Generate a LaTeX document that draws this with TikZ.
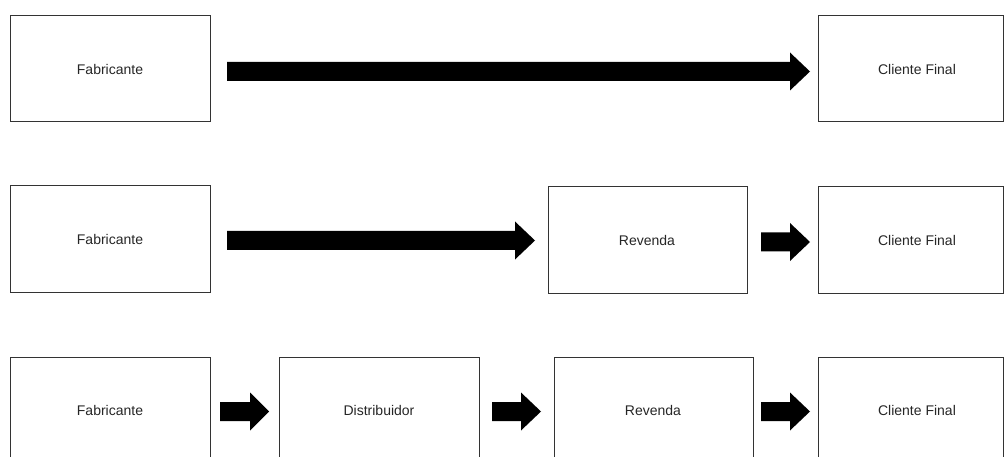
\documentclass[tikz,border=0pt]{standalone}
\usepackage{fontspec}
\setmainfont{Liberation Sans}
\usetikzlibrary{calc}
\begin{document}
\begin{tikzpicture}[x=1pt,y=-1pt,
  boxlabel/.style={font=\fontsize{14}{16}\selectfont, text=black!85},
  boxframe/.style={draw=black!80, line width=1pt, fill=white},
  blockarrow/.style={fill=black, draw=none}]
\useasboundingbox (0,0) rectangle (1004,457);
\clip (0,0) rectangle (1004,457);
% row 1
\draw[boxframe] (10,16) rectangle (210,122);
\node[boxlabel] (f1) at (110,69) {Fabricante};
\draw[boxframe] (818,16) rectangle (1003,122);
\node[boxlabel] (c1) at (917,69) {Cliente Final};
% row 2
\draw[boxframe] (10,186) rectangle (210,292);
\node[boxlabel] (f2) at (110,239) {Fabricante};
\draw[boxframe] (548,187) rectangle (747,293);
\node[boxlabel] (r2) at (647,240) {Revenda};
\draw[boxframe] (818,187) rectangle (1003,293);
\node[boxlabel] (c2) at (917,240) {Cliente Final};
% row 3
\draw[boxframe] (10,357) rectangle (210,480);
\node[boxlabel] (f3) at (110,410) {Fabricante};
\draw[boxframe] (279,357) rectangle (479,480);
\node[boxlabel] (d3) at (379,410) {Distribuidor};
\draw[boxframe] (554,357) rectangle (753,480);
\node[boxlabel] (r3) at (653,410) {Revenda};
\draw[boxframe] (818,357) rectangle (1003,480);
\node[boxlabel] (c3) at (917,410) {Cliente Final};
% arrows: \barrow{x0}{xhead}{xtip}{ycenter}
\newcommand\barrow[4]{%
  \fill[blockarrow] (#1,#4-9.5) -- (#2,#4-9.5) -- (#2,#4-19) -- (#3,#4)
    -- (#2,#4+19) -- (#2,#4+9.5) -- (#1,#4+9.5) -- cycle;}
\barrow{227}{790}{810}{71.5}
\barrow{227}{515}{535}{240.5}
\barrow{761}{790}{810}{242}
\barrow{220}{250}{269}{411.5}
\barrow{492}{521}{541}{411.5}
\barrow{761}{790}{810}{411.5}
\end{tikzpicture}
\end{document}
